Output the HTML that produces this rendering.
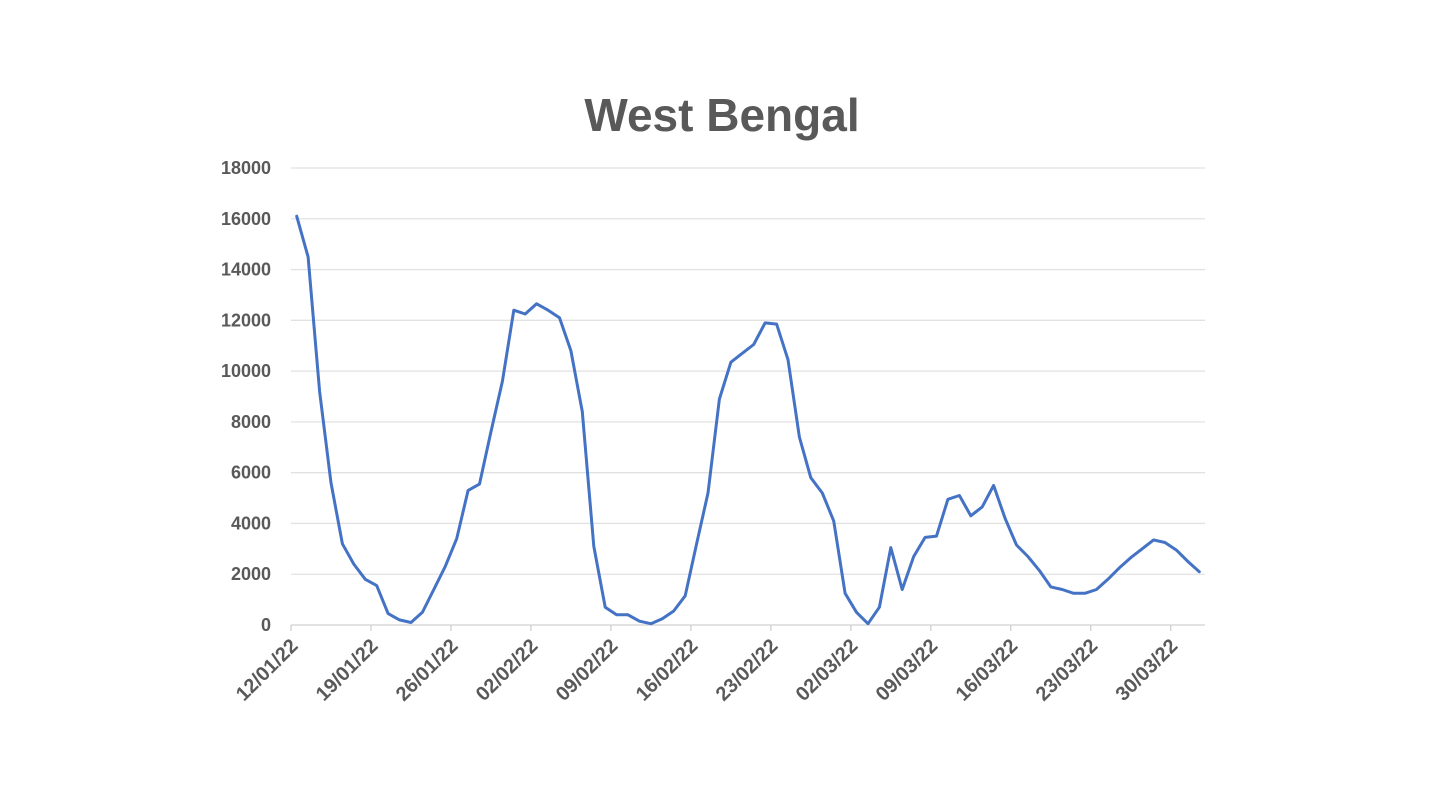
<!DOCTYPE html>
<html><head><meta charset="utf-8"><style>
body{margin:0;background:#fff;}
svg{display:block;font-family:"Liberation Sans",Arial,sans-serif;}
</style></head><body>
<svg id="chart" width="1442" height="805" viewBox="0 0 1442 805">
<rect width="1442" height="805" fill="#fff"/>
<text x="722" y="131" text-anchor="middle" font-size="46" font-weight="bold" fill="#595959">West Bengal</text>
<g id="grid"></g><g id="yticks"></g><g id="xticks"></g><g id="series"></g>
</svg>
<script>
const values=[16100,14500,9200,5600,3200,2400,1800,1550,450,200,100,500,1400,2300,3400,5300,5550,7600,9600,12400,12250,12650,12400,12100,10800,8400,3100,700,400,400,150,50,250,550,1150,3200,5200,8900,10350,10700,11050,11900,11850,10450,7400,5800,5200,4100,1250,500,50,700,3050,1400,2700,3450,3500,4950,5100,4300,4650,5500,4200,3150,2700,2150,1500,1400,1250,1250,1400,1800,2250,2650,3000,3350,3250,2950,2500,2100];
const yTicks=[0,2000,4000,6000,8000,10000,12000,14000,16000,18000];
const xLabels=["12/01/22","19/01/22","26/01/22","02/02/22","09/02/22","16/02/22","23/02/22","02/03/22","09/03/22","16/03/22","23/03/22","30/03/22"];
const labelStep=7;
const NS="http://www.w3.org/2000/svg";
const x0=291,x1=1205,yBase=625,yTop=168,yMax=18000;
const step=(x1-x0)/values.length;
const xs=i=>x0+step*(i+0.5);
const ys=v=>yBase-(v/yMax)*(yBase-yTop);
function mk(t,a,p){const e=document.createElementNS(NS,t);for(const k in a)e.setAttribute(k,a[k]);p.appendChild(e);return e;}
const grid=document.getElementById('grid'),yt=document.getElementById('yticks'),xt=document.getElementById('xticks'),se=document.getElementById('series');
yTicks.forEach(v=>{
 const l=mk('line',{x1:x0,x2:x1,y1:ys(v),y2:ys(v),stroke:v===0?'#d0d0d0':'#e2e2e2','stroke-width':1.3},grid);
 
 
 const t=mk('text',{x:271,y:ys(v)+6,'text-anchor':'end','font-size':18,'font-weight':'bold',fill:'#595959'},yt);
 t.textContent=v;
 
 
});
xLabels.forEach((s,k)=>{
 const x=x0+step*labelStep*k;
 const l=mk('line',{x1:x,x2:x,y1:yBase,y2:yBase+6,stroke:'#d0d0d0','stroke-width':1.3},xt);
 
 
 const t=mk('text',{x:x+8,y:yBase+22,'text-anchor':'end','font-size':20,'font-weight':'bold',fill:'#595959',transform:`rotate(-45 ${x+8} ${yBase+22})`},xt);
 t.textContent=s;
 
 
});
const p=mk('polyline',{points:values.map((v,i)=>xs(i).toFixed(1)+','+ys(v).toFixed(1)).join(' '),fill:'none',stroke:'#4472c4','stroke-width':3,'stroke-linejoin':'round','stroke-linecap':'round'},se);


</script>
</body></html>
